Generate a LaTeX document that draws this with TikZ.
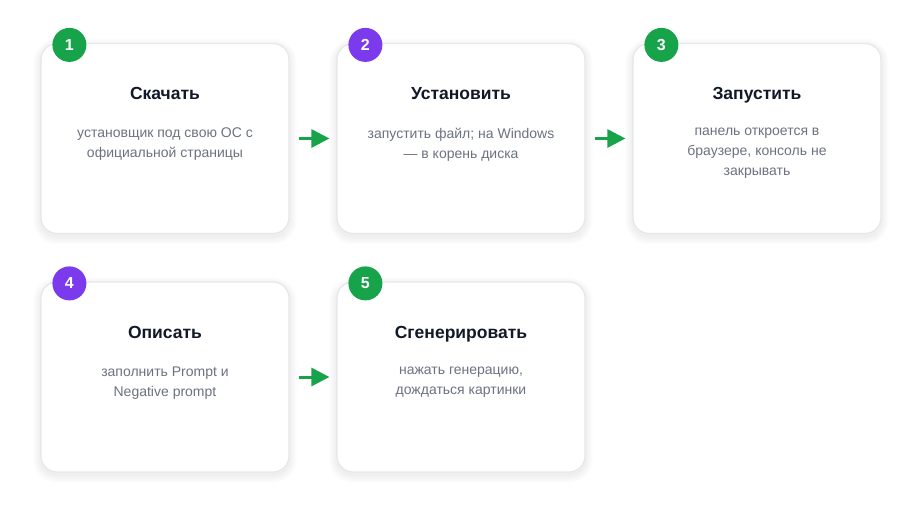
\documentclass[tikz,border=0pt]{standalone}
\usepackage{fontspec}
\setmainfont{Liberation Sans}
\usetikzlibrary{positioning,arrows.meta}

\definecolor{stepgreen}{HTML}{16A34A}
\definecolor{steppurple}{HTML}{7C3AED}
\definecolor{titleink}{HTML}{111827}
\definecolor{descink}{HTML}{6B7280}
\definecolor{cardline}{HTML}{E5E7EB}

\tikzset{
  card/.style={draw=cardline, line width=1.2pt, fill=white, rounded corners=16pt,
    minimum width=248pt, minimum height=190pt, inner sep=0pt},
  badge/.style={circle, fill=#1, minimum size=34pt, inner sep=0pt, text=white,
    font=\fontsize{16}{16}\selectfont\bfseries},
  steptitle/.style={text=titleink, anchor=base, inner sep=0pt,
    font=\fontsize{17.5}{20}\selectfont\bfseries},
  stepdesc/.style={text=descink, anchor=north, inner sep=0pt, align=center,
    font=\fontsize{14}{20}\selectfont, execute at begin node=\rule{0pt}{11pt}},
  flow/.style={-{Triangle[length=18pt,width=18pt]}, line width=3pt, draw=stepgreen,
    shorten <=9pt, shorten >=7pt},
}

\begin{document}
\begin{tikzpicture}[x=1pt,y=-1pt]
   \useasboundingbox[fill=white] (0,0) rectangle (922,516);
   % Sizes
   \pgfmathsetmacro{\colstep}{296}
   \pgfmathsetmacro{\rowstep}{238.5}

   % shadows
   \foreach \cx/\cy in {165/138.5,461/138.5,757/138.5,165/377,461/377}{
     \foreach \k in {1,...,8}{
       \fill[black, opacity=0.009, rounded corners=16pt+\k pt]
         (\cx-124-\k, \cy-95-\k+3) rectangle (\cx+124+\k, \cy+95+\k+3);
     }
   }

   % cards
   \node[card] (s1) at (165,138.5) {};
   \node[card] (s2) at (165+\colstep,138.5) {};
   \node[card] (s3) at (165+2*\colstep,138.5) {};
   \node[card] (s4) at (165,138.5+\rowstep) {};
   \node[card] (s5) at (165+\colstep,138.5+\rowstep) {};

   % badges
   \node[badge=stepgreen]  (b1) at ([xshift=29pt,yshift=-2pt]s1.north west) {1};
   \node[badge=steppurple] (b2) at ([xshift=29pt,yshift=-2pt]s2.north west) {2};
   \node[badge=stepgreen]  (b3) at ([xshift=29pt,yshift=-2pt]s3.north west) {3};
   \node[badge=steppurple] (b4) at ([xshift=29pt,yshift=-2pt]s4.north west) {4};
   \node[badge=stepgreen]  (b5) at ([xshift=29pt,yshift=-2pt]s5.north west) {5};

   % labels
   \node[steptitle] (t1) at ([yshift=-57pt]s1.north) {Скачать};
   \node[steptitle] (t2) at ([yshift=-57pt]s2.north) {Установить};
   \node[steptitle] (t3) at ([yshift=-57pt]s3.north) {Запустить};
   \node[steptitle] (t4) at ([yshift=-57pt]s4.north) {Описать};
   \node[steptitle] (t5) at ([yshift=-57pt]s5.north) {Сгенерировать};

   \node[stepdesc] (d1) at ([yshift=-85pt]s1.north) {установщик под свою ОС с\\официальной страницы};
   \node[stepdesc] (d2) at ([yshift=-85pt]s2.north) {запустить файл; на Windows\\— в корень диска};
   \node[stepdesc] (d3) at ([yshift=-85pt]s3.north) {панель откроется в\\браузере, консоль не\\закрывать};
   \node[stepdesc] (d4) at ([yshift=-85pt]s4.north) {заполнить Prompt и\\Negative prompt};
   \node[stepdesc] (d5) at ([yshift=-85pt]s5.north) {нажать генерацию,\\дождаться картинки};

   % arrows
   \draw[flow] (s1) -- (s2);
   \draw[flow] (s2) -- (s3);
   \draw[flow] (s4) -- (s5);
\end{tikzpicture}
\end{document}
